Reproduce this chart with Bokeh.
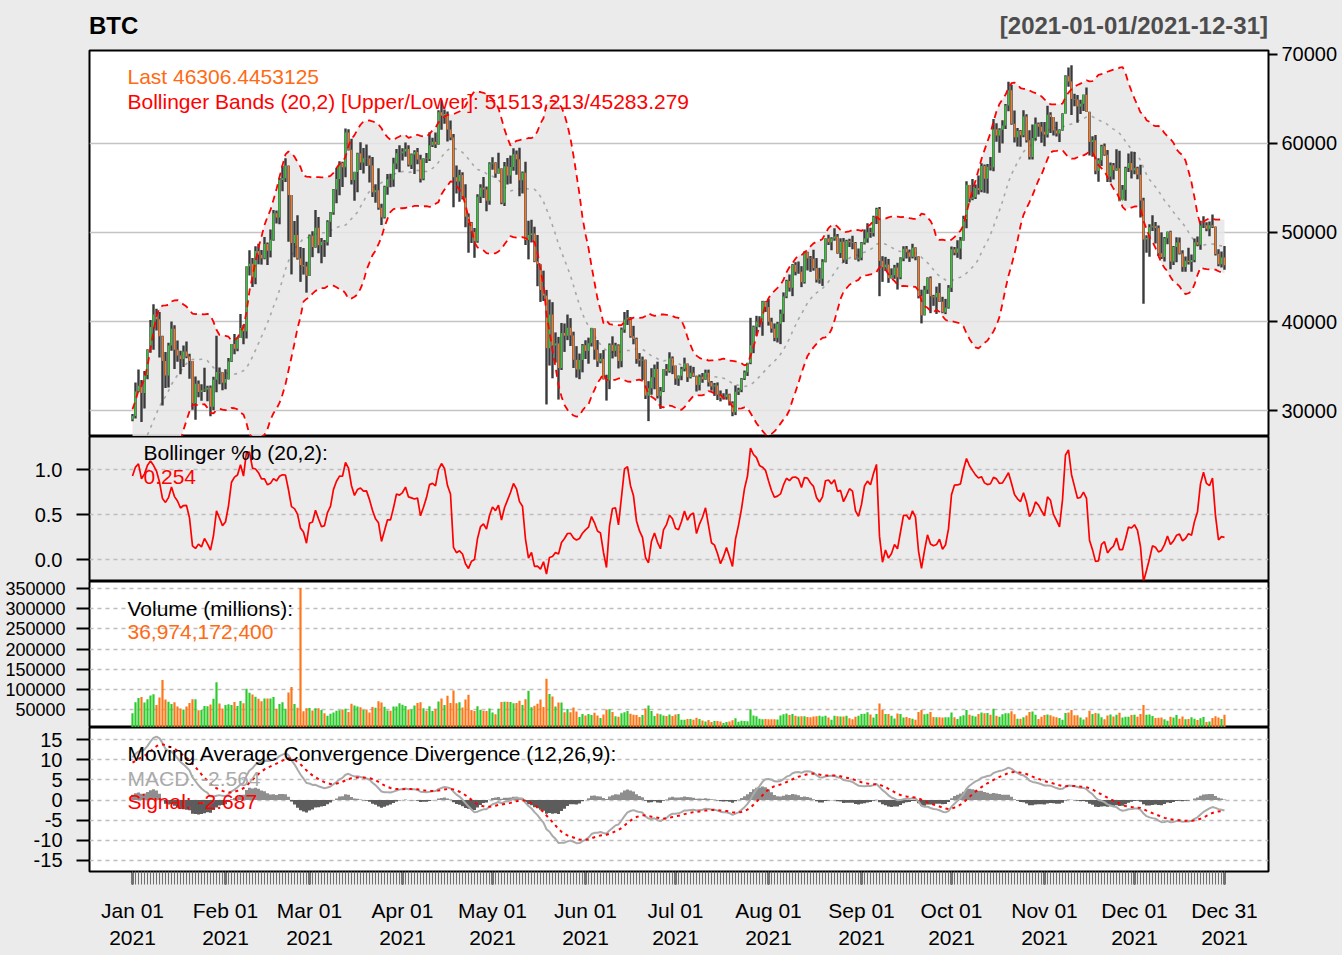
import numpy as np
import pandas as pd
from bokeh.plotting import figure
from bokeh.layouts import column
from bokeh.models import ColumnDataSource, Range1d, FixedTicker, NumeralTickFormatter, Label, Div
from bokeh.embed import file_html
from bokeh.resources import INLINE

FONT = "Liberation Sans"

# --- data: BTC-USD daily, 2021 (plus late-2020 warm-up for the indicators) ---
# closes Nov 1 .. Dec 31 2020
pre_close = [13737, 13550, 13950, 14133, 15579, 15565, 14833, 15479, 15332, 15290,
             15701, 16276, 16317, 16068, 15955, 16716, 17645, 17804, 17817, 18621,
             18642, 18370, 18365, 19107, 18732, 17150, 17108, 17718, 18177, 19625,
             18802, 19201, 19445, 18699, 19154, 19345, 19191, 18321, 18553, 18264,
             18058, 18803, 19142, 19246, 19418, 21310, 22805, 23137, 23869, 23477,
             22803, 23783, 23241, 23735, 24664, 26437, 26272, 27084, 27362, 28841, 29001]
# highs / lows Dec 1 .. Dec 31 2020
pre_high = [19845, 19308, 19566, 19511, 19160, 19390, 19421, 19294, 18639, 18557,
            18268, 18948, 19381, 19305, 19525, 21458, 23642, 23238, 24085, 24209,
            24059, 23789, 24024, 23768, 24710, 26718, 28288, 27389, 27370, 28937, 29244]
pre_low = [18321, 18347, 18925, 18697, 18590, 18897, 18902, 18200, 17650, 17911,
           17619, 18020, 18734, 19012, 19079, 19298, 21234, 22399, 22826, 23147,
           22159, 22430, 22802, 22777, 23463, 24522, 25922, 26207, 25987, 27360, 28201]

close = [
    29374, 32127, 32782, 31971, 33992, 36824, 39371, 40797, 40254, 38356, 35566, 33922, 37316, 39187, 36825, 36178, 35792, 36630, 36069, 35548, 30825, 33005, 32067, 32289, 32366, 32569, 30432, 33467, 34316, 34269, 33114,
    33538, 35510, 37472, 36926, 38144, 39266, 38903, 46196, 46481, 44918, 47909, 47504, 47105, 48717, 47945, 49199, 52149, 51679, 55888, 56099, 57539, 54207, 48824, 49705, 47093, 46339, 46188, 45137,
    49631, 48378, 50538, 48561, 48927, 48912, 51206, 52246, 54824, 56008, 57805, 57332, 61243, 59302, 55907, 56804, 58870, 57858, 58346, 58313, 57523, 54529, 54738, 52774, 51704, 55137, 55974, 55948, 57750, 58918, 58918,
    59095, 59384, 57604, 58758, 59057, 58192, 56048, 58323, 58245, 59793, 60204, 59893, 63503, 63110, 63314, 61572, 60683, 56216, 55724, 56473, 53906, 51763, 51093, 50050, 49004, 54021, 55033, 54824, 53555, 57750,
    57828, 56631, 57200, 53333, 57424, 56396, 57356, 58803, 58232, 55859, 56704, 49150, 49716, 49880, 46760, 46456, 43538, 42909, 37002, 40782, 37304, 37536, 34770, 38705, 38402, 39295, 38436, 35698, 34617, 35678, 37333,
    36693, 37568, 39246, 36829, 35513, 35797, 33552, 33380, 37389, 36703, 37313, 35551, 39097, 40219, 40406, 38347, 38053, 35787, 35615, 35698, 31676, 32505, 33723, 34663, 31637, 32187, 34650, 34434, 35867, 35041,
    33572, 33897, 34668, 35287, 33747, 34236, 33855, 32877, 33799, 33520, 34240, 33155, 32702, 32822, 31780, 31421, 31533, 31797, 30817, 29807, 32110, 32313, 33581, 34292, 35350, 37337, 39406, 39995, 40008, 42235, 41626,
    39974, 39201, 38152, 39747, 40870, 42816, 44555, 43798, 46365, 45585, 45593, 44428, 47793, 47096, 47047, 46004, 44695, 44801, 46717, 49339, 48905, 49321, 49546, 47706, 48960, 46942, 49058, 48902, 48830, 47054, 47166,
    48847, 49327, 50025, 49944, 51753, 52633, 46811, 46091, 46391, 44883, 45201, 46063, 44963, 47092, 48176, 47783, 47267, 48278, 47260, 42843, 40694, 43574, 44895, 42839, 42716, 43208, 42235, 41034, 41564, 43790,
    48116, 47711, 48199, 49112, 51514, 55361, 53805, 53967, 54968, 54771, 57484, 56041, 57401, 57321, 61593, 60892, 61553, 62026, 64262, 65993, 62210, 60693, 61393, 60930, 63039, 60363, 58482, 60622, 62228, 61888, 61318,
    61004, 63226, 62970, 61452, 61125, 61527, 63327, 67566, 66971, 64995, 64949, 64155, 64469, 65466, 63557, 60161, 60368, 56942, 58119, 59697, 58730, 56289, 57569, 57005, 57229, 53569, 54816, 57248, 57806, 57005,
    57229, 56477, 53598, 49200, 49368, 50582, 50700, 50504, 47672, 47244, 49362, 50098, 46737, 48379, 48864, 47632, 46131, 46834, 46681, 46915, 48896, 48629, 50784, 50822, 50429, 50809, 50640, 47588, 46444, 47178, 46306.4453125,
]
high = [
    29601, 33155, 34608, 33441, 34437, 36879, 40180, 41946, 41436, 41062, 38406, 36568, 37599, 40000, 39577, 37856, 36722, 37299, 37755, 36378, 35553, 33811, 33360, 32944, 34802, 32794, 32820, 33783, 38406, 34834, 34288,
    34638, 35896, 37480, 38592, 38225, 40846, 39621, 46203, 48003, 47145, 48463, 48745, 48047, 49487, 48875, 50341, 52533, 52474, 56113, 57505, 58330, 57540, 54210, 51290, 51948, 48370, 48254, 46716,
    49784, 50127, 52535, 51735, 49396, 49147, 51384, 52314, 54900, 57258, 58013, 57940, 61683, 61597, 60540, 56833, 58970, 60130, 59498, 59882, 58650, 58482, 55431, 57215, 53229, 55260, 56568, 56610, 58405, 59374, 59800,
    59469, 60110, 59792, 58886, 59253, 59495, 58731, 58338, 58937, 61276, 60659, 61238, 63742, 64863, 63822, 63595, 62572, 61057, 57520, 57062, 56757, 55410, 52131, 51166, 50506, 54288, 55416, 56227, 55173, 57900,
    58448, 57900, 58973, 57214, 57911, 58360, 58645, 59464, 59210, 59519, 56862, 57939, 51330, 51438, 50639, 49720, 46439, 45713, 43547, 42462, 42172, 38776, 38271, 39835, 39776, 40782, 40379, 38856, 37234, 36400, 37468,
    37896, 38187, 39289, 39242, 37917, 36436, 36790, 34017, 37534, 38334, 37608, 37439, 39322, 41064, 41295, 40516, 39513, 38187, 36457, 36059, 35721, 33298, 34753, 35164, 35487, 32637, 34656, 35219, 36542, 36074,
    35060, 33939, 34909, 35937, 35284, 35038, 34900, 33919, 34045, 34209, 34592, 34592, 33316, 33097, 33159, 32249, 31935, 32398, 31885, 31032, 32816, 32559, 33650, 34490, 35364, 40416, 39540, 40640, 40593, 42320, 42311,
    42541, 40419, 39784, 39969, 41341, 43271, 44689, 45282, 46456, 46665, 46743, 46218, 47886, 47831, 47360, 48053, 47127, 46031, 47000, 49342, 49757, 49479, 50482, 49843, 49358, 49370, 49184, 49295, 49626, 48925, 48189,
    48936, 50343, 51033, 50535, 51868, 52780, 52853, 47339, 47262, 47031, 45969, 46364, 46598, 47218, 48450, 48486, 48085, 48745, 48343, 47328, 43579, 44000, 44969, 45061, 42996, 43919, 44313, 42775, 42541, 44092,
    48436, 48366, 49130, 49506, 51887, 55750, 55332, 56001, 55397, 56401, 57793, 57627, 57688, 58478, 62757, 62274, 61721, 62614, 64434, 66930, 66600, 63715, 61748, 61505, 63729, 63293, 61497, 62128, 62927, 62358, 62406,
    62419, 64242, 63516, 62984, 62436, 61590, 63390, 67673, 68531, 68789, 65579, 65460, 64915, 65495, 66281, 63564, 60823, 60948, 58351, 59859, 60004, 59266, 57875, 57803, 59367, 59186, 55329, 57393, 58872, 59113,
    59041, 57393, 57600, 53904, 49699, 50929, 51934, 51171, 50797, 50015, 49485, 50102, 50192, 48472, 49473, 49425, 47995, 47313, 48300, 47537, 49329, 49544, 51332, 51814, 51156, 51241, 52016, 50679, 48119, 47879, 48472,
]
low = [
    28804, 29091, 32053, 28722, 30221, 33514, 36491, 36838, 38980, 35944, 30549, 32531, 32584, 36700, 34659, 35486, 34069, 34883, 35880, 33570, 30071, 28953, 31493, 31106, 32087, 31030, 29367, 30023, 32064, 32940, 32270,
    32384, 33489, 35443, 36317, 36658, 38138, 37446, 38076, 45166, 43881, 44187, 46424, 46392, 46990, 46347, 47201, 49073, 51015, 50937, 54626, 55672, 48967, 45290, 47213, 46950, 44454, 45269, 43241,
    45115, 47228, 48274, 47656, 46543, 47257, 48550, 49506, 51981, 53290, 54198, 55114, 56217, 59200, 55393, 53555, 54528, 57023, 56643, 57469, 55618, 53982, 53333, 52550, 50856, 51579, 54242, 55071, 55139, 57103, 56769,
    58089, 58520, 57429, 57139, 56559, 57673, 55604, 55879, 57807, 58038, 59618, 59487, 59870, 61554, 62208, 60222, 60361, 52829, 54368, 53448, 53695, 50583, 47714, 48818, 47159, 48852, 53319, 53887, 52400, 53129,
    57052, 56141, 56590, 53185, 52969, 55382, 55487, 56938, 56482, 54071, 54370, 48600, 46980, 48868, 46664, 43963, 42201, 42307, 30681, 35050, 33616, 35383, 31227, 34552, 36581, 37906, 37247, 34779, 33693, 33520, 34287,
    35787, 35255, 37189, 35717, 34900, 35304, 33480, 31114, 32397, 35847, 36044, 34728, 34864, 38730, 39609, 38176, 37439, 35255, 34933, 33432, 31295, 28805, 31772, 32385, 31350, 30184, 32071, 33902, 34252, 34086,
    32883, 32770, 33402, 34396, 33213, 33599, 33778, 32133, 32255, 33116, 33448, 32697, 32233, 31638, 31175, 31021, 31223, 31215, 30563, 29360, 29482, 31745, 32057, 33425, 33881, 35205, 36442, 38401, 39352, 38397, 41076,
    39540, 38746, 37782, 37643, 37458, 39932, 42618, 43362, 42848, 45189, 45362, 43861, 44261, 45734, 45579, 45709, 44376, 44255, 43998, 46650, 48607, 48004, 49074, 47600, 47138, 46600, 46460, 48370, 48112, 46950, 46750,
    46879, 48652, 48862, 49403, 49538, 50969, 42843, 44452, 45669, 44344, 44818, 44791, 43591, 44752, 46773, 47079, 46699, 47084, 46877, 42598, 39787, 40679, 43100, 40936, 41759, 40848, 42190, 40931, 40829, 41444,
    43320, 47442, 47153, 46991, 49073, 50488, 53357, 53627, 53759, 54264, 54519, 54477, 54370, 56957, 56868, 60206, 58963, 60012, 61622, 63610, 62117, 60122, 59668, 59643, 60691, 60117, 58206, 58206, 60329, 60765, 60074,
    59695, 60673, 61184, 60891, 60775, 60163, 61432, 63344, 66382, 63208, 64180, 62333, 63303, 63647, 63548, 58638, 58515, 56550, 55705, 57469, 58618, 55679, 55632, 55964, 56938, 53500, 53668, 53576, 56792, 56057,
    56553, 55985, 51680, 42000, 47727, 47281, 50175, 48765, 47358, 47023, 46751, 48670, 45857, 46347, 46671, 47529, 45598, 45598, 46407, 45579, 46660, 48450, 48067, 50514, 50142, 49576, 50499, 47414, 46201, 46060, 45819,
]
# volume in millions of USD
volume = [
    40731, 67865, 78665, 81163, 67548, 75289, 84763, 88108, 61485, 79585, 123321, 74762, 69364, 63615, 67760, 57706, 52359, 49830, 57712, 66111, 75284, 75464, 48355, 48643, 58926, 58380, 62575, 76512, 117894, 65127, 52754,
    61400, 63089, 61166, 68838, 58598, 71327, 65500, 101467, 91810, 87301, 81388, 76555, 70251, 77069, 77049, 77050, 80820, 52054, 63495, 68145, 51897, 92052, 106102, 63696, 54506, 350968, 45910, 53443,
    53892, 47530, 53215, 53112, 48627, 40950, 34750, 39350, 42660, 46770, 48020, 50360, 52080, 43900, 64380, 59750, 57590, 55720, 49060, 49800, 42410, 56520, 54600, 70560, 67540, 56720, 47690, 47020, 57600, 57620, 65520,
    61720, 58730, 50010, 50110, 60190, 66060, 67830, 53010, 46660, 58240, 46280, 51830, 69860, 77450, 60950, 84290, 66140, 97470, 65340, 67850, 54930, 74800, 86670, 49010, 46120, 58260, 49450, 46850, 46120, 52400,
    42840, 38180, 51740, 68560, 69240, 69060, 68560, 65380, 65910, 71780, 61310, 75220, 96720, 55740, 59160, 64050, 74880, 56210, 126360, 88280, 82050, 57380, 67360, 67360, 43210, 51350, 43210, 55200, 45230, 31650, 39010,
    35200, 39000, 36400, 41800, 35200, 28900, 37900, 49900, 50500, 43600, 33100, 32400, 40700, 43100, 46400, 39500, 37100, 36200, 31200, 36600, 52800, 60000, 46300, 33900, 40200, 38600, 35500, 33900, 37900, 34100,
    37840, 38730, 24380, 24920, 26720, 26500, 24800, 29910, 26720, 22970, 20110, 24290, 19120, 21380, 21300, 20620, 16790, 18790, 20430, 23150, 28650, 19560, 22210, 21680, 20890, 50950, 35100, 33330, 27170, 26180, 26380,
    25950, 25600, 26190, 25370, 35190, 38230, 40030, 36300, 38730, 34500, 32900, 33480, 33380, 31300, 30600, 32780, 33450, 34800, 32600, 34680, 30300, 24840, 34310, 33600, 32500, 32700, 34500, 28600, 25900, 31850, 34650,
    39140, 39510, 43210, 37470, 30320, 38880, 65210, 49010, 38670, 39150, 34500, 27900, 40080, 38650, 30480, 31760, 28730, 26900, 24720, 43900, 48700, 38400, 39580, 43900, 31600, 30700, 30700, 30210, 30600, 31140,
    42850, 30620, 26640, 33380, 35880, 49030, 36810, 34800, 32490, 39100, 42640, 41080, 41690, 36830, 51780, 34670, 32140, 38060, 40470, 40630, 45910, 38430, 26880, 27320, 31060, 34900, 43660, 45260, 36850, 26300, 32240,
    36150, 37750, 36120, 32620, 30600, 29090, 24730, 41130, 42420, 48730, 35880, 36080, 30470, 25120, 30560, 46840, 39180, 41390, 40100, 30620, 26090, 35310, 37460, 32930, 36940, 41810, 30210, 32370, 32320, 36710,
    36900, 32300, 39000, 61400, 37200, 37700, 33700, 29300, 29600, 30000, 25800, 21900, 32200, 30400, 36500, 27300, 32900, 26100, 26600, 30900, 27000, 24300, 28500, 31400, 19000, 20600, 28800, 33400, 30000, 26700, 36974.1724,
]
month_labels = ["Jan 01", "Feb 01", "Mar 01", "Apr 01", "May 01", "Jun 01", "Jul 01",
                "Aug 01", "Sep 01", "Oct 01", "Nov 01", "Dec 01", "Dec 31"]

for name, arr in [("close", close), ("high", high), ("low", low), ("volume", volume)]:
    assert len(arr) == 365, (name, len(arr))

dates = pd.date_range("2021-01-01", "2021-12-31")
n = len(dates)
x = np.arange(n)

# --- indicators (as quantmod draws them) ---
cl = np.array(close, float)
op = np.array(pre_close[-1:] + close[:-1], float)  # 24h market: open = previous close
hlc = (np.array(pre_high + high) + np.array(pre_low + low) + np.array(pre_close[-31:] + close)) / 3
ma = pd.Series(hlc).rolling(20).mean().to_numpy()
sd = pd.Series(hlc).rolling(20).std(ddof=0).to_numpy()
bb_up, bb_dn, bb_mid = (ma + 2 * sd)[-n:], (ma - 2 * sd)[-n:], ma[-n:]
pctb = ((hlc - (ma - 2 * sd)) / (4 * sd))[-n:]


def ema(v, k):
    v = np.asarray(v, float)
    out = np.full(len(v), np.nan)
    first = int(np.argmax(~np.isnan(v)))
    s = first + k - 1
    out[s] = v[first:s + 1].mean()
    a = 2.0 / (k + 1)
    for i in range(s + 1, len(v)):
        out[i] = out[i - 1] + a * (v[i] - out[i - 1])
    return out


allc = np.array(pre_close + close, float)
macd_all = 100 * (ema(allc, 12) / ema(allc, 26) - 1)
sig_all = ema(macd_all, 9)
macd, signal = macd_all[-n:], sig_all[-n:]
hist = macd - signal

UP, DN = "#2BCB2B", "#FF7518"
is_up = cl >= op
src = ColumnDataSource(dict(
    x=x, high=high, low=low,
    top=np.maximum(op, cl), bottom=np.minimum(op, cl),
    color=[UP if u else DN for u in is_up],
    vol=volume, up=bb_up, dn=bb_dn, mid=bb_mid, pctb=pctb,
    macd=macd, signal=signal, hist=hist,
    hcol=["#8E8E8E" if h >= 0 else "#5C5C5C" for h in hist],
))

# --- layout ---
W, LEFT, RIGHT = 1342, 89, 74
BG = "#EBEBEB"
x_range = Range1d(-14.33, 378.67)


def panel(height, y0, y1, bg, yloc="left", xloc=None, top=0, bottom=0):
    p = figure(width=W, height=height, x_range=x_range, y_range=Range1d(y0, y1),
               output_backend="svg", toolbar_location=None, tools="",
               x_axis_location=xloc, y_axis_location=yloc,
               min_border_left=LEFT, min_border_right=RIGHT,
               min_border_top=top, min_border_bottom=bottom)
    p.background_fill_color = bg
    p.border_fill_color = BG
    p.outline_line_color = "black"
    p.outline_line_width = 2
    p.xgrid.visible = False
    p.ygrid.grid_line_color = "#BDBDBD"
    p.ygrid.grid_line_width = 1.5
    p.ygrid.grid_line_dash = "4 4"
    ax = p.yaxis[0]
    ax.axis_line_color = None
    ax.minor_tick_line_color = None
    ax.major_tick_in = 0
    ax.major_tick_out = 13
    ax.major_tick_line_width = 2
    ax.major_label_standoff = 14
    ax.major_label_text_font = FONT
    ax.major_label_text_font_size = "20px"
    ax.major_label_text_color = "black"
    ax.formatter = NumeralTickFormatter(format="0")
    return p


def note(p, xv, yv, text, color="black"):
    p.add_layout(Label(x=xv, y=yv, text=text, text_font=FONT, text_font_size="21px",
                       text_color=color, text_baseline="middle"))


header = Div(text=(
    f"<div style='position:relative;width:{W}px;height:38px;font-family:\"{FONT}\";"
    "font-weight:bold;font-size:24px;line-height:28px;'>"
    f"<span style='position:absolute;left:{LEFT}px;top:12px;color:#000'>BTC</span>"
    f"<span style='position:absolute;right:{RIGHT}px;top:12px;color:#4D4D4D'>[2021-01-01/2021-12-31]</span>"
    "</div>"), width=W, height=38, margin=(0, 0, 0, 0))

# price panel
p1 = panel(398, 27079, 70449, "white", yloc="right", top=12)
p1.yaxis.ticker = FixedTicker(ticks=[30000, 40000, 50000, 60000, 70000])
p1.yaxis.major_tick_out = 9
p1.yaxis.major_label_standoff = 4
p1.ygrid.ticker = FixedTicker(ticks=[30000, 40000, 50000, 60000])
p1.ygrid.grid_line_dash = "solid"
p1.ygrid.grid_line_color = "#C4C4C4"
p1.varea(x="x", y1="dn", y2="up", source=src, fill_color="#E6E6E6", fill_alpha=0.85)
p1.line(x="x", y="mid", source=src, line_color="#A8A8A8", line_width=1.6, line_dash="3 5")
p1.segment(x0="x", y0="low", x1="x", y1="high", source=src, line_color="#3A3A3A", line_width=2.4)
p1.vbar(x="x", width=0.42, top="top", bottom="bottom", source=src, fill_color="color", line_color=None)
p1.line(x="x", y="up", source=src, line_color="#FF0000", line_width=1.8, line_dash="7 5")
p1.line(x="x", y="dn", source=src, line_color="#FF0000", line_width=1.8, line_dash="7 5")
note(p1, -1.67, 67528, "Last 46306.4453125", "#FF6A13")
note(p1, -1.67, 64719, "Bollinger Bands (20,2) [Upper/Lower]: 51513.213/45283.279", "#FF0000")

# %b panel
p2 = panel(145, -0.244, 1.367, BG)
p2.yaxis.ticker = FixedTicker(ticks=[0, 0.5, 1.0])
p2.yaxis.formatter = NumeralTickFormatter(format="0.0")
p2.line(x="x", y="pctb", source=src, line_color="#FF0000", line_width=1.7)
note(p2, 3.67, 1.189, "Bollinger %b (20,2):")
note(p2, 3.67, 0.922, "0.254", "#FF0000")

# volume panel: its canvas reaches 10px up over the %b panel (transparent there)
# so that the top tick label is not cut
p3 = panel(156, 5450, 367350, "white", top=10)
p3.margin = (-10, 0, 0, 0)
p3.border_fill_alpha = 0
p3.yaxis.ticker = FixedTicker(ticks=[50000, 100000, 150000, 200000, 250000, 300000, 350000])
p3.yaxis.major_label_text_font_size = "18px"
p3.yaxis.major_label_standoff = 11
p3.vbar(x="x", width=0.72, top="vol", bottom=0, source=src, fill_color="color", line_color=None)
note(p3, -1.67, 300450, "Volume (millions):")
note(p3, -1.67, 240960, "36,974,172,400", "#FF6A13")

# MACD panel
p4 = panel(228, -17.73, 17.98, "white", xloc="below", bottom=84)
p4.yaxis.ticker = FixedTicker(ticks=[-15, -10, -5, 0, 5, 10, 15])
p4.vbar(x="x", width=1.0, top="hist", bottom=0, source=src, fill_color="hcol", line_color=None)
p4.line(x="x", y="macd", source=src, line_color="#AAAAAA", line_width=2)
p4.line(x="x", y="signal", source=src, line_color="#FF0000", line_width=2, line_dash="3 4")
note(p4, -1.67, 11.41, "Moving Average Convergence Divergence (12,26,9):")
note(p4, -1.67, 5.45, "MACD: -2.564", "#AAAAAA")
note(p4, -1.67, -0.25, "Signal: -2.687", "#FF0000")

month_ticks = [i for i, d in enumerate(dates) if d.day == 1] + [n - 1]
xa = p4.xaxis[0]
xa.ticker = FixedTicker(ticks=month_ticks, minor_ticks=list(range(n)))
xa.major_label_overrides = {t: f"{lab}\n2021" for t, lab in zip(month_ticks, month_labels)}
xa.axis_line_color = None
xa.major_tick_in = 0
xa.major_tick_out = 13
xa.major_tick_line_width = 2
xa.minor_tick_in = 0
xa.minor_tick_out = 13
xa.minor_tick_line_color = "#707070"
xa.minor_tick_line_width = 1
xa.major_label_standoff = 14
xa.major_label_text_font = FONT
xa.major_label_text_font_size = "21px"
xa.major_label_text_color = "black"

layout = column(header, p1, p2, p3, p4, spacing=0, styles={"background-color": BG})
open("out.html", "w").write(file_html(layout, INLINE))
